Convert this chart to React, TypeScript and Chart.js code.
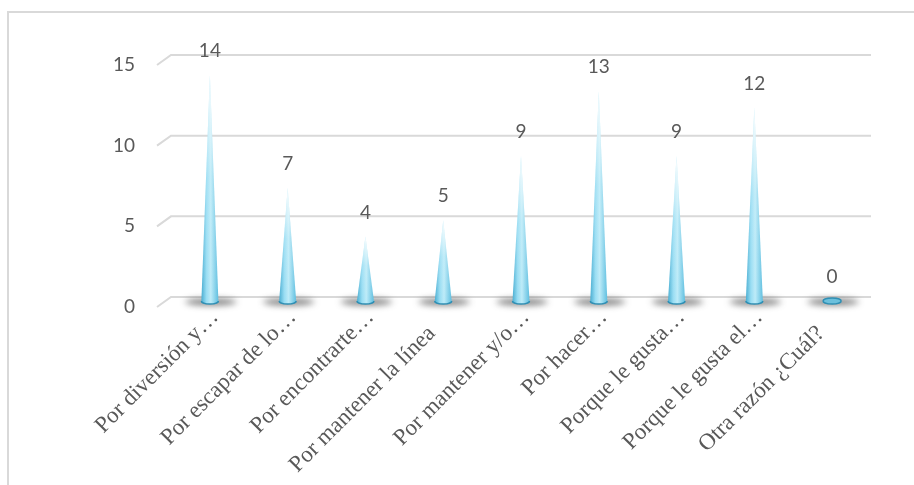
import React, { useEffect, useRef } from "react";
import { Chart, registerables } from "chart.js";

Chart.register(...registerables);

// Motivos y número de respuestas
const categories = [
  "Por diversión y…",
  "Por escapar de lo…",
  "Por encontrarte…",
  "Por mantener la línea",
  "Por mantener y/o…",
  "Por hacer…",
  "Porque le gusta…",
  "Porque le gusta el…",
  "Otra razón ¿Cuál?",
];
const responses = [14, 7, 4, 5, 9, 13, 9, 12, 0];
const yTicks = [0, 5, 10, 15];

const GRID = "#d9d9d9";
const TEXT = "#595959";
// perspective offset of the back wall relative to the front plane
const DEPTH_X = 14;
const DEPTH_Y = 10;

const frameAndGrid = {
  id: "frameAndGrid",
  beforeDraw(chart: any) {
    const ctx = chart.ctx;
    const { left, right } = chart.chartArea;
    const y = chart.scales.y;
    ctx.save();
    // outer frame
    ctx.strokeStyle = GRID;
    ctx.lineWidth = 2;
    ctx.strokeRect(8, 12, 2000, 2000);
    // 3D-style gridlines: short diagonal then the back-wall line
    ctx.lineWidth = 2;
    for (const v of yTicks) {
      const py = y.getPixelForValue(v);
      ctx.beginPath();
      ctx.moveTo(left - DEPTH_X / 2, py);
      ctx.lineTo(left + DEPTH_X / 2, py - DEPTH_Y);
      ctx.lineTo(right + DEPTH_X / 2, py - DEPTH_Y);
      ctx.stroke();
    }
    ctx.restore();
  },
};

function drawCone(ctx: CanvasRenderingContext2D, x: number, tipY: number, baseY: number, hw: number) {
  const ry = 3;
  ctx.save();
  ctx.beginPath();
  ctx.moveTo(x - hw, baseY);
  ctx.lineTo(x, tipY);
  ctx.lineTo(x + hw, baseY);
  ctx.ellipse(x, baseY, hw, ry, 0, 0, Math.PI, false);
  ctx.closePath();
  const hg = ctx.createLinearGradient(x - hw, 0, x + hw, 0);
  hg.addColorStop(0, "#4aaed2");
  hg.addColorStop(0.3, "#98ddf3");
  hg.addColorStop(0.55, "#bdebf8");
  hg.addColorStop(1, "#5fbfe0");
  ctx.fillStyle = hg;
  ctx.fill();
  const vg = ctx.createLinearGradient(0, baseY, 0, tipY);
  vg.addColorStop(0, "rgba(255,255,255,0)");
  vg.addColorStop(0.55, "rgba(255,255,255,0.1)");
  vg.addColorStop(0.85, "rgba(255,255,255,0.6)");
  vg.addColorStop(1, "rgba(255,255,255,0.92)");
  ctx.fillStyle = vg;
  ctx.fill();
  // rim of the base
  ctx.beginPath();
  ctx.ellipse(x, baseY, hw, ry, 0, 0, Math.PI, false);
  ctx.strokeStyle = "#2f90b5";
  ctx.lineWidth = 1.5;
  ctx.stroke();
  ctx.restore();
}

const cones = {
  id: "cones",
  afterDatasetsDraw(chart: any) {
    const ctx = chart.ctx;
    const meta = chart.getDatasetMeta(0);
    const y = chart.scales.y;
    const data = chart.data.datasets[0].data as number[];
    const baseY = y.getPixelForValue(0) - 6;
    const hw = 8.5;
    ctx.save();
    // floor shadows
    meta.data.forEach((bar: any) => {
      const cx = bar.x + DEPTH_X / 2;
      ctx.save();
      ctx.filter = "blur(3px)";
      ctx.fillStyle = "rgba(50,50,50,0.6)";
      ctx.beginPath();
      ctx.ellipse(cx + 1, baseY + 1, 26, 3.5, 0, 0, Math.PI * 2);
      ctx.fill();
      ctx.restore();
    });
    meta.data.forEach((bar: any, i: number) => {
      const v = data[i];
      const cx = bar.x + DEPTH_X / 2;
      if (v > 0) {
        drawCone(ctx, cx, y.getPixelForValue(v) - 6, baseY, hw);
      } else {
        ctx.beginPath();
        ctx.ellipse(cx, baseY, 9, 3, 0, 0, Math.PI * 2);
        ctx.fillStyle = "#6cc0dc";
        ctx.fill();
        ctx.strokeStyle = "#2f90b5";
        ctx.lineWidth = 1.5;
        ctx.stroke();
      }
      // value label
      ctx.fillStyle = TEXT;
      ctx.font = "19px Lato";
      ctx.textAlign = "center";
      ctx.textBaseline = "middle";
      ctx.fillText(String(v), cx, y.getPixelForValue(v) - 30);
    });
    ctx.restore();
  },
};

export default function App() {
  const ref = useRef<HTMLCanvasElement>(null);
  useEffect(() => {
    const chart = new Chart(ref.current!, {
      type: "bar",
      data: {
        labels: categories,
        datasets: [
          {
            data: responses,
            backgroundColor: "rgba(0,0,0,0)",
            borderWidth: 0,
          },
        ],
      },
      options: {
        responsive: false,
        animation: false,
        layout: { padding: { top: 65, right: 50, left: 0, bottom: 0 } },
        plugins: { legend: { display: false }, tooltip: { enabled: false } },
        scales: {
          x: {
            grid: { display: false },
            border: { display: false },
            afterFit: (s: any) => {
              s.height = 178;
            },
            ticks: {
              autoSkip: false,
              maxRotation: 45,
              minRotation: 45,
              labelOffset: 12,
              padding: -11,
              color: TEXT,
              font: { family: "'Liberation Serif', 'Times New Roman', serif", size: 23 },
              // untruncated names sit a little further down the slope
              callback: (_v: any, i: number) =>
                categories[i].endsWith("…") ? categories[i] : categories[i] + "\u2003",
            },
          },
          y: {
            min: 0,
            max: 15,
            grid: { display: false },
            border: { display: false },
            afterFit: (s: any) => {
              s.width = 164;
            },
            ticks: {
              stepSize: 5,
              padding: 21,
              color: TEXT,
              font: { family: "Lato", size: 19 },
            },
          },
        },
      },
      plugins: [frameAndGrid, cones],
    });
    return () => chart.destroy();
  }, []);
  return (
    <div style={{ position: "fixed", left: 0, top: 0, width: 914, height: 485, background: "#fff" }}>
      <canvas ref={ref} width={914} height={485} />
    </div>
  );
}
